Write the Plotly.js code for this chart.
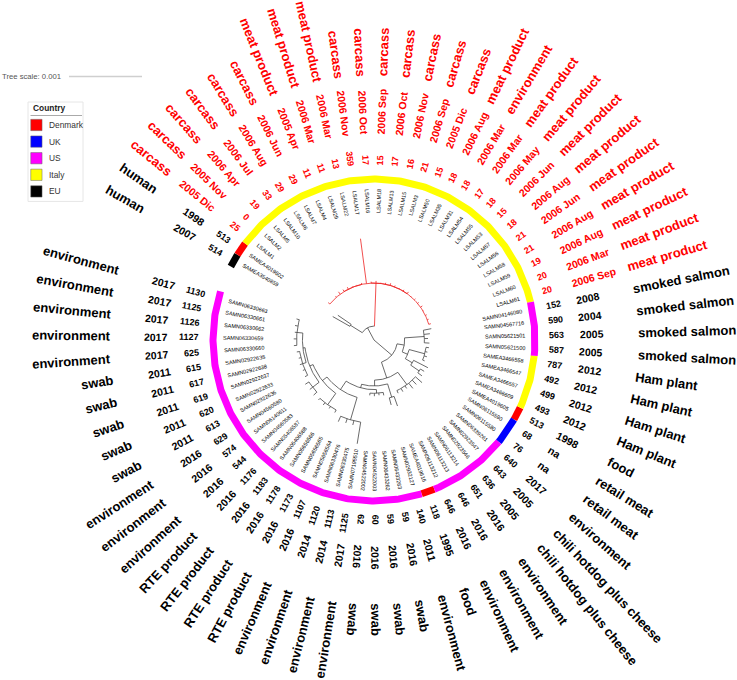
<!DOCTYPE html>
<html><head><meta charset="utf-8">
<script src="https://cdn.plot.ly/plotly-3.0.1.min.js"></script>
<style>html,body{margin:0;padding:0;background:#fff}#chart{width:737px;height:680px}</style>
</head><body><div id="chart"></div>
<script>
// ---------------- data ----------------
const leafNames = ["SAMEA3540859","SAMEA4019602",
"LSALM1","LSALM2","LSALM5","LSALM10","LSALM6","LSALM7","LSALM4","LSALM29","LSALM22","LSALM17","LSALM16","LSALM18","LSALM13","LSALM15","LSALM3","LSALM50","LSALM35","LSALM31","LSALM54","LSALM55","LSALM53","LSALM57","LSALM56","LSALM58","LSALM59","LSALM60","LSALM61",
"SAMN04146080","SAMN04567716","SAMN05621501","SAMN05621500",
"SAMEA3466558","SAMEA3466547","SAMEA3466557","SAMEA3466609",
"SAMEA4019605","SAMN06115590","SAMN06115580","SAMN06339261","SAMN02923547","SAMN02923546","SAMN06113214","SAMN06113213","SAMN06113212","SAMEA4019616","SAMN02932127","SAMN06433263","SAMN06433262","SAMN04522003","SAMN04522002","SAMN07195510","SAMN06330475","SAMN06330476","SAMN05656564","SAMN05656565","SAMN05656566","SAMN05406588","SAMN05406587","SAMN04560583","SAMN06140611","SAMN04560580","SAMN02922636","SAMN02922633","SAMN02922637","SAMN02922638","SAMN02922635","SAMN06330660","SAMN06330659","SAMN06330662","SAMN06330661","SAMN06330663"];
const country = ["EU","Denmark",
"Italy","Italy","Italy","Italy","Italy","Italy","Italy","Italy","Italy","Italy","Italy","Italy","Italy","Italy","Italy","Italy","Italy","Italy","Italy","Italy","Italy","Italy","Italy","Italy","Italy","Italy","Italy",
"US","US","US","US",
"Italy","Italy","Italy","Italy",
"Denmark","UK","UK","US","US","US","US","US","US","Denmark","US","US","US","US","US","US","US","US","US","US","US","US","US","US","US","US","US","US","US","US","US","US","US","US","US","US"];
const sequenceType = [514,513,
25,0,19,33,29,29,11,11,13,359,17,15,17,16,21,15,18,18,17,18,15,18,21,21,19,20,20,
152,590,563,587,
787,492,499,493,
513,68,76,640,643,636,651,646,646,118,140,59,59,60,62,1125,1113,1120,1107,1173,1178,1183,1176,544,574,629,613,620,619,617,615,625,1127,1126,1125,1130];
const isolationDate = ["2007","1998",
"2005 Dic","2005 Nov","2006 Apr","2006 Jul","2006 Aug","2006 Jun","2005 Apr","2006 Mar","2006 Mar","2006 Nov","2006 Oct","2006 Sep","2006 Oct","2006 Nov","2006 Sep","2005 Dic","2006 Aug","2006 Mar","2006 Mar","2006 May","2006 Jun","2006 Aug","2006 Jun","2006 Aug","2006 Aug","2006 Mar","2006 Sep",
"2008","2004","2005","2005",
"2012","2012","2012","2012",
"1998","na","na","2017","2005","2005","2016","2016","2016","1995","2011","2016","2016","2016","2016","2017","2014","2014","2016","2016","2016","2016","2016","2016","2016","2016","2011","2011","2011","2011","2011","2017","2017","2017","2017","2017"];
const sourceType = ["human","human",
"carcass","carcass","carcass","carcass","carcass","carcass","meat product","meat product","meat product","carcass","carcass","carcass","carcass","carcass","carcass","carcass","meat product","environment","meat product","meat product","meat product","meat product","meat product","meat product","meat product","meat product","meat product",
"smoked salmon","smoked salmon","smoked salmon","smoked salmon",
"Ham plant","Ham plant","Ham plant","Ham plant",
"food","retail meat","retail meat","environment","chili hotdog plus cheese","chili hotdog plus cheese","environment","environment","environment","food","environment","swab","swab","swab","swab","environment","environment","environment","environment","RTE product","RTE product","RTE product","RTE product","environment","environment","environment","swab","swab","swab","swab","swab","environment","environment","environment","environment","environment"];
const legendCountries = ["Denmark","UK","US","Italy","EU"];

// tree in Newick form (leaves = index in leafNames), branch lengths in substitutions/site
const cladeJ = "((63:0.00004,64:0.00003,65:0.00004,66:0.00003,67:0.00004):0.00005,(68:0.00004,69:0.00004,70:0.00003,71:0.00004,72:0.00004):0.00008)";
const cladeG = "((60:0.00006,61:0.00005,62:0.00006):0.00011," + cladeJ + ":0.00003)";
const cladeF = "((56:0.00004,57:0.00003,58:0.00004,59:0.00003):0.00019," + cladeG + ":0.00005)";
const cladeE = "((52:0.0003,53:0.00006,54:0.00006,55:0.00008):0.00032," + cladeF + ":0.00008)";
const cladeD = "((48:0.00004,49:0.00003,50:0.00004,51:0.00003):0.00005," + cladeE + ":0.00014)";
const cladeC = "((46:0.00014,47:0.0001):0.00019," + cladeD + ":0.00005)";
const cladeUS = "((40:0.00012,41:0.00008,42:0.00009,43:0.00004,44:0.00005,45:0.00004):0.00021," + cladeC + ":0.00008)";
const cladeMix = "((29:0.00011,30:0.00008,31:0.00005,32:0.00007):0.00027,((33:0.00004,34:0.00003,35:0.00004,36:0.00003):0.00022,(37:0.00022,(38:0.00006,39:0.00007):0.00014):0.00011):0.00008)";
const cladeItaly = "((2:0.00003,3:0,4:0.00002,5:0.00004,6:0.00003,7:0.00003,8:0.00001,9:0.00001,10:0.00002):0,11:0.00062,(12:0.00002,13:0.00003,14:0.00001,15:0.00002,16:0.00003,17:0.00002,18:0.00001,19:0.00002,20:0.00003,21:0.00001,22:0.00002,23:0.00002,24:0.00003,25:0.00001,26:0.00002,27:0.00002,28:0.00003):0)";
const cladeTop = "((0:0.00027,1:0.00022):0.00019," + cladeItaly + ":0.00059)";
const treeNewick = "(" + cladeTop + ":0.00019,(" + cladeMix + ":0.0001," + cladeUS + ":0.00023):0.00032);";
const treeScaleValue = 0.001;

// ---------------- geometry / style ----------------
const W = 737, H = 680, cx = 374, cy = 340;
const firstAngle = 150.4, stepAngle = 4.8;
const pxPerUnit = 73 / treeScaleValue;
const ringR = 161, ringW = 7;
const nameOuterR = 151, stInnerR = 175, dateInnerR = 206, srcInnerR = 264;
const countryColor = {Denmark:"#ff0000", UK:"#0000ff", US:"#ff00ff", Italy:"#ffff00", EU:"#000000"};
const RED = "#ff0000";
const FONT = "Liberation Sans, Arial, sans-serif";

const N = leafNames.length;
const leafAngle = i => firstAngle - stepAngle * i;
function pt(r, deg){ const a = deg*Math.PI/180; return [cx + r*Math.cos(a), cy - r*Math.sin(a)]; }
function norm(d){ while(d>180) d-=360; while(d<=-180) d+=360; return d; }

const ctx = document.createElement('canvas').getContext('2d');
function textW(t, size, bold){ ctx.font = (bold?'bold ':'') + size + 'px "Liberation Sans"'; return ctx.measureText(t).width; }

const annotations = [];
function radialLabel(i, text, size, bold, color, r, anchorInner){
  const phi = norm(leafAngle(i));
  const flip = (phi > 90 || phi < -97);
  const w = textW(text, size, bold);
  const rc = anchorInner ? r + w/2 : r - w/2;
  const [x,y] = pt(rc, phi);
  const ang = flip ? norm(180 - phi) : norm(-phi);
  annotations.push({x, y, xref:'x', yref:'y', text: bold?'<b>'+text+'</b>':text, showarrow:false,
    textangle: ang, xanchor:'center', yanchor:'middle', borderpad:0,
    font:{family:FONT, size, color}});
}

for(let i=0;i<N;i++){
  const lab = leafNames[i].startsWith("LSALM") ? RED : "#000";
  radialLabel(i, leafNames[i], 5.5, false, "#000", nameOuterR, false);
  radialLabel(i, String(sequenceType[i]), 9, true, lab, stInnerR, true);
  radialLabel(i, isolationDate[i], 10.5, true, lab, dateInnerR, true);
  radialLabel(i, sourceType[i], 13, true, lab, srcInnerR, true);
}

// ---------------- ring ----------------
const traces = [];
const ringPaths = {};
let s = 0;
for(let i=1;i<=N;i++){
  if(i===N || country[i]!==country[s]){
    const a0 = leafAngle(s) + stepAngle/2, a1 = leafAngle(i-1) - stepAngle/2;
    const c = country[s];
    ringPaths[c] = ringPaths[c] || {x:[],y:[]};
    const n = Math.max(2, Math.ceil((a0-a1)/0.5));
    for(let k=0;k<=n;k++){ const [x,y]=pt(ringR, a0-(a0-a1)*k/n); ringPaths[c].x.push(x); ringPaths[c].y.push(y); }
    ringPaths[c].x.push(null); ringPaths[c].y.push(null);
    s = i;
  }
}
for(const c in ringPaths){
  traces.push({type:'scatter', mode:'lines', x:ringPaths[c].x, y:ringPaths[c].y, hoverinfo:'skip',
    line:{color:countryColor[c], width:ringW, shape:'linear'}});
}

// ---------------- tree ----------------
function parseNewick(str){
  let p=0;
  function node(){
    const n={children:[], len:0};
    if(str[p]==='('){ p++; n.children.push(node()); while(str[p]===','){ p++; n.children.push(node()); } p++; }
    else { let m=''; while(/[0-9]/.test(str[p])) m+=str[p++]; n.leaf=+m; }
    if(str[p]===':'){ p++; let m=''; while(/[0-9.eE\-]/.test(str[p])) m+=str[p++]; n.len=+m; }
    return n;
  }
  return node();
}
const root = parseNewick(treeNewick);
function layout(n, d){
  n.r = (d + n.len) * pxPerUnit;
  if(n.children.length){
    n.children.forEach(c=>layout(c, d+n.len));
    const as = n.children.map(c=>c.ang);
    n.ang = (Math.max(...as)+Math.min(...as))/2;
    n.red = n.children.every(c=>c.red);
  } else {
    n.ang = leafAngle(n.leaf);
    n.red = leafNames[n.leaf].startsWith("LSALM");
  }
}
root.len = 0; layout(root, 0);
const tb = {x:[],y:[]}, tr = {x:[],y:[]};
function drawTree(n){
  if(!n.children.length) return;
  const tgtArc = n.red ? tr : tb;
  const as = n.children.map(c=>c.ang);
  const a0 = Math.max(...as), a1 = Math.min(...as);
  const k = Math.max(2, Math.ceil((a0-a1)/1));
  for(let j=0;j<=k;j++){ const [x,y]=pt(n.r, a0-(a0-a1)*j/k); tgtArc.x.push(x); tgtArc.y.push(y); }
  tgtArc.x.push(null); tgtArc.y.push(null);
  n.children.forEach(c=>{
    const t = c.red ? tr : tb;
    if(c.r > n.r){
      const [x0,y0]=pt(n.r, c.ang), [x1,y1]=pt(c.r, c.ang);
      t.x.push(x0,x1,null); t.y.push(y0,y1,null);
    }
    drawTree(c);
  });
}
drawTree(root);
traces.push({type:'scatter', mode:'lines', x:tb.x, y:tb.y, hoverinfo:'skip', line:{color:'#444', width:0.8}});
traces.push({type:'scatter', mode:'lines', x:tr.x, y:tr.y, hoverinfo:'skip', line:{color:'#ee2222', width:0.8}});

// ---------------- tree scale ----------------
const scaleX0 = 69, scaleY = 76.5;
traces.push({type:'scatter', mode:'lines', x:[scaleX0, scaleX0 + treeScaleValue*pxPerUnit], y:[scaleY, scaleY],
  hoverinfo:'skip', line:{color:'#cfcfcf', width:1.5}});
annotations.push({x:0, y:scaleY, xref:'x', yref:'y', text:'Tree scale: ' + treeScaleValue, showarrow:false,
  xanchor:'left', yanchor:'middle', font:{family:FONT, size:7.7, color:'#555'}});

// ---------------- legend ----------------
const legX = 28, legY = 102, legRowH = 16.6, legFirst = 125;
const shapes = [
  {type:'rect', xref:'x', yref:'y', x0:legX, x1:83, y0:legY, y1:legFirst + legRowH*(legendCountries.length-1) + 10,
   line:{color:'#e6e6e6', width:1}, fillcolor:'rgba(0,0,0,0)'},
  {type:'line', xref:'x', yref:'y', x0:30.5, x1:82, y0:115.5, y1:115.5, line:{color:'#aaa', width:1}}
];
annotations.push({x:31, y:108.3, xref:'x', yref:'y', text:'<b>Country</b>', showarrow:false, xanchor:'left', yanchor:'middle',
  font:{family:FONT, size:8.4, color:'#222'}});
traces.push({type:'scatter', mode:'markers', x:legendCountries.map(()=>36.4), y:legendCountries.map((c,k)=>legFirst+legRowH*k),
  hoverinfo:'skip', marker:{symbol:'square', size:11.3, color:legendCountries.map(c=>countryColor[c]), line:{color:'#666', width:0.5}}});
legendCountries.forEach((c,k)=>{
  annotations.push({x:47, y:legFirst+legRowH*k, xref:'x', yref:'y', text:c, showarrow:false, xanchor:'left', yanchor:'middle',
    font:{family:FONT, size:8.4, color:'#333'}});
});

Plotly.newPlot('chart', traces, {
  width:W, height:H, margin:{l:0,r:0,t:0,b:0}, paper_bgcolor:'#fff', plot_bgcolor:'#fff', showlegend:false,
  xaxis:{range:[0,W], visible:false, fixedrange:true},
  yaxis:{range:[H,0], visible:false, fixedrange:true},
  annotations, shapes
}, {displayModeBar:false, staticPlot:true});
</script></body></html>
